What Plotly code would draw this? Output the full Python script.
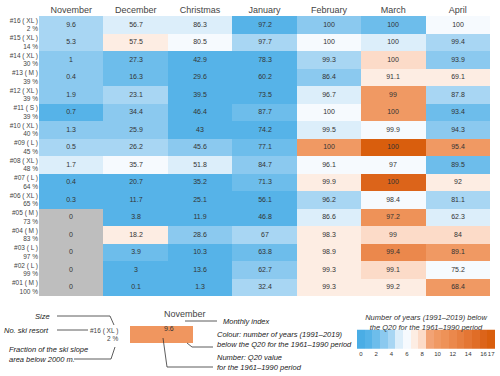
import numpy as np
import plotly.graph_objects as go

# --- data -------------------------------------------------------------
periods = ['November', 'December', 'Christmas', 'January', 'February', 'March', 'April']
resorts = ['#16', '#15', '#14', '#13', '#12', '#11', '#10', '#09',
           '#08', '#07', '#06', '#05', '#04', '#03', '#02', '#01']
sizes = ['XL', 'XL', 'XL', 'M', 'XL', 'S', 'XL', 'L', 'XL', 'L', 'XL', 'M', 'M', 'L', 'L', 'M']
fraction_below_2000 = [2, 14, 30, 39, 39, 39, 40, 45, 48, 64, 65, 73, 83, 97, 99, 100]

# Q20 values for the 1961-1990 period (cell numbers)
q20_november = [9.6, 5.3, 1, 0.4, 1.9, 0.7, 1.3, 0.5, 1.7, 0.4, 0.3, 0, 0, 0, 0, 0]
q20_december = [56.7, 57.5, 27.3, 16.3, 23.1, 34.4, 25.9, 26.2, 35.7, 20.7, 11.7, 3.8, 18.2, 3.9, 3, 0.1]
q20_christmas = [86.3, 80.5, 42.9, 29.6, 39.5, 46.4, 43, 45.6, 51.8, 35.2, 25.1, 11.9, 28.6, 10.3, 13.6, 1.3]
q20_january = [97.2, 97.7, 78.3, 60.2, 73.5, 87.7, 74.2, 77.1, 84.7, 71.3, 56.1, 46.8, 67, 63.8, 62.7, 32.4]
q20_february = [100, 100, 99.3, 86.4, 96.7, 100, 99.5, 100, 96.1, 99.9, 96.2, 86.6, 98.3, 98.9, 99.3, 99.3]
q20_march = [100, 100, 100, 91.1, 99, 100, 99.9, 100, 97, 100, 98.4, 97.2, 99, 99.4, 99.1, 99.2]
q20_april = [100, 99.4, 93.9, 69.1, 87.8, 93.4, 94.3, 95.4, 89.5, 92, 81.1, 62.3, 84, 89.1, 75.2, 68.4]

# number of years (1991-2019) below the Q20 (cell colour); None = no data (grey)
years_november = [4, 4, 3, 3, 3, 1, 3, 4, 5, 1, 1, None, None, None, None, None]
years_december = [5, 7, 2, 2, 4, 3, 3, 4, 6, 1, 1, 1, 7, 2, 1, 1]
years_christmas = [5, 6, 1, 1, 1, 1, 1, 3, 5, 1, 1, 1, 3, 1, 1, 1]
years_january = [1, 4, 1, 1, 1, 2, 1, 2, 3, 2, 1, 1, 4, 2, 3, 4]
years_february = [3, 6, 4, 3, 5, 6, 5, 10, 6, 7, 4, 5, 7, 7, 7, 7]
years_march = [2, 5, 8, 7, 10, 10, 6, 17, 6, 16, 6, 11, 8, 12, 8, 7]
years_april = [6, 4, 3, 7, 4, 2, 3, 10, 2, 7, 4, 5, 8, 10, 6, 10]

colorbar_ticks = [0, 2, 4, 6, 8, 10, 12, 14, 16, 17]

# --- build matrices -----------------------------------------------------
q20 = np.array([q20_november, q20_december, q20_christmas, q20_january,
                q20_february, q20_march, q20_april], dtype=float).T
years = np.array([years_november, years_december, years_christmas, years_january,
                  years_february, years_march, years_april], dtype=float).T
text = [[f'{v:g}' for v in row] for row in q20]
row_labels = [f'{r} ( {s} )<br>{f} %' for r, s, f in zip(resorts, sizes, fraction_below_2000)]

# stepped colour scale, one band per year count (0..17)
band_colors = ['#4aade5', '#56b3e8', '#6dbdeb', '#8bc9ef', '#a8d6f3', '#dceefa',
               '#f6fafe', '#fdede3', '#fcdbc8', '#f2a375', '#f09963', '#ee9258',
               '#eb884c', '#e77f40', '#e47634', '#e06d27', '#dc641a', '#d95e0d']
nb = len(band_colors)
colorscale = []
for i, c in enumerate(band_colors):
    colorscale.append([i / nb, c])
    colorscale.append([(i + 1) / nb, c])

FONT = 'Liberation Sans, Arial, sans-serif'
W, H = 500, 376
ML, MR, MT, MB = 39, 10, 16, 0


def px(x):
    return (x - ML) / (W - ML - MR)


def py(y):
    return (H - MB - y) / (H - MT - MB)


gray_mask = np.where(np.isnan(years), 1.0, np.nan)
gray_text = [[t if np.isnan(y) else '' for t, y in zip(tr, yr)] for tr, yr in zip(text, years)]
main_text = [[t if not np.isnan(y) else '' for t, y in zip(tr, yr)] for tr, yr in zip(text, years)]

fig = go.Figure()
fig.add_trace(go.Heatmap(
    x=periods, y=row_labels, z=gray_mask, colorscale=[[0, '#bebebe'], [1, '#bebebe']],
    showscale=False, text=gray_text, texttemplate='%{text}',
    textfont=dict(size=7, color='#333', family=FONT), hoverinfo='skip'))
fig.add_trace(go.Heatmap(
    x=periods, y=row_labels, z=years, zmin=-0.5, zmax=17.5, colorscale=colorscale,
    text=main_text, texttemplate='%{text}', textfont=dict(size=7, color='#333', family=FONT),
    colorbar=dict(
        orientation='h', lenmode='pixels', len=138, thickness=19,
        x=px(426), xanchor='center', y=py(311), yanchor='top', xpad=0, ypad=0,
        outlinewidth=0, ticks='', tickvals=colorbar_ticks, tickangle=0,
        tickfont=dict(size=6, color='#333', family=FONT),
        title=dict(text='<i>Number of years (1991–2019) below<br>the Q20 for the 1961–1990 period</i>',
                   side='top', font=dict(size=7.5, color='#333', family=FONT)),
    )))

fig.update_xaxes(side='top', showgrid=False, zeroline=False, ticks='', automargin=False,
                 tickfont=dict(size=9, color='#444', family=FONT))
fig.update_yaxes(autorange='reversed', showgrid=False, zeroline=False, ticks='', automargin=False,
                 tickfont=dict(size=6.5, color='#444', family=FONT), domain=[py(296), 1])

# --- explanatory legend (bottom left) -------------------------------------
ann_font = dict(size=7.5, color='#222', family=FONT)
notes = [
    (52, 316, 'right', '<i>Size</i>'),
    (51, 330, 'right', '<i>No. ski resort</i>'),
    (7, 354, 'left', '<i>Fraction of the ski slope<br>area below 2000 m.</i>'),
    (221, 321, 'left', '<i>Monthly index</i>'),
    (215, 339, 'left', '<i>Colour: number of years (1991–2019)<br>below the Q20 for the 1961–1990 period</i>'),
    (215, 362, 'left', '<i>Number: Q20 value<br>for the 1961–1990 period</i>'),
]
for x, y, anchor, t in notes:
    fig.add_annotation(x=px(x), y=py(y), xref='paper', yref='paper', text=t, showarrow=False,
                       xanchor=anchor, yanchor='middle', align='left', font=ann_font)

fig.add_annotation(x=px(121), y=py(334), xref='paper', yref='paper', showarrow=False,
                   text='#16 ( XL )<br>2 %', xanchor='right', yanchor='middle', align='right',
                   font=dict(size=6.5, color='#444', family=FONT))
fig.add_annotation(x=px(162), y=py(321), xref='paper', yref='paper', showarrow=False,
                   text='November', font=dict(size=9, color='#444', family=FONT))
fig.add_shape(type='rect', xref='paper', yref='paper', x0=px(130), x1=px(193), y0=py(326), y1=py(343),
              fillcolor='#f0965f', line=dict(width=0))
fig.add_annotation(x=px(162), y=py(334), xref='paper', yref='paper', showarrow=False,
                   text='9.6', font=dict(size=7, color='#333', family=FONT))

leader_lines = [
    [(57, 316), (110, 316), (114, 325)],
    [(57, 330), (88, 330)],
    [(74, 359), (111, 359), (115, 347)],
    [(185, 321), (217, 321)],
    [(187, 343), (192, 347), (213, 347)],
    [(163, 338), (167, 367), (213, 367)],
]
for pts in leader_lines:
    path = 'M ' + ' L '.join(f'{px(x)},{py(y)}' for x, y in pts)
    fig.add_shape(type='path', xref='paper', yref='paper', path=path,
                  line=dict(color='#333', width=0.8))

fig.update_layout(width=W, height=H,
                  margin=dict(l=ML, r=MR, t=MT, b=MB, autoexpand=False),
                  paper_bgcolor='white', plot_bgcolor='white', font=dict(family=FONT))

# the page's default body margin would push the figure 8px right/down
fig.write_html('out.html', config={'displayModeBar': False},
               post_script="document.body.style.margin = '0';")
